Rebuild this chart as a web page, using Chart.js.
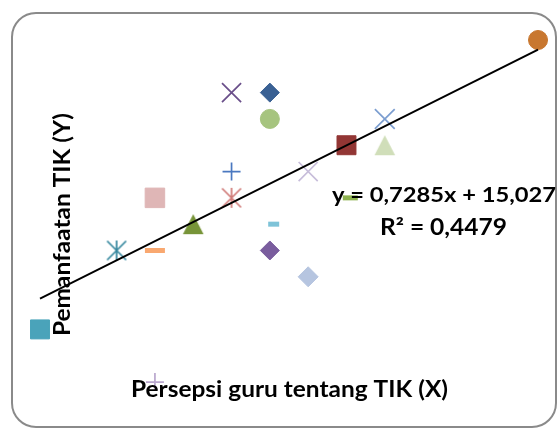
<!DOCTYPE html>
<html>
<head>
<meta charset="utf-8">
<script src="https://cdn.jsdelivr.net/npm/chart.js@4.4.1/dist/chart.umd.min.js"></script>
<style>
  html, body { margin: 0; padding: 0; background: #ffffff; }
  #wrap { width: 558px; height: 429px; }
</style>
</head>
<body>
<div id="wrap"><canvas id="grafico" width="558" height="429"></canvas></div>
<script>
// Dados (X = persepsi, Y = pemanfaatan)
const nilaiX = [40, 42, 43, 43, 44, 45, 45, 45, 46, 46, 46.1, 46, 47, 47, 48, 49, 49, 53, 48.1, 43];
const nilaiY = [43, 46, 46, 48, 47, 52, 49, 48, 52, 51, 47, 46, 49, 45, 50, 51, 50, 54, 48, 41];

// Linha de tendência (do rótulo)
const inclinacao = 0.7285;
const intercepto = 15.027;
const rotuloEquacao = 'y = 0,7285x + 15,027';
const rotuloR2 = 'R² = 0,4479';
const tituloX = 'Persepsi guru tentang TIK (X)';
const tituloY = 'Pemanfaatan TIK (Y)';

// Asterisco estilo Excel (X + linha vertical)
function criarAsterisco(cor) {
  const c = document.createElement('canvas');
  c.width = 22; c.height = 22;
  const g = c.getContext('2d');
  g.strokeStyle = cor;
  g.lineWidth = 1.7;
  g.beginPath();
  g.moveTo(11 - 9.5, 11 - 9.5); g.lineTo(11 + 9.5, 11 + 9.5);
  g.moveTo(11 + 9.5, 11 - 9.5); g.lineTo(11 - 9.5, 11 + 9.5);
  g.moveTo(11, 1); g.lineTo(11, 21);
  g.stroke();
  return c;
}

// Triângulo centrado pela caixa (como no Excel)
function criarTriangulo(cor) {
  const c = document.createElement('canvas');
  c.width = 22; c.height = 22;
  const g = c.getContext('2d');
  g.fillStyle = cor;
  g.beginPath();
  g.moveTo(11, 1);
  g.lineTo(21.3, 21);
  g.lineTo(0.7, 21);
  g.closePath();
  g.fill();
  return c;
}

// Estilo de cada marcador (mesma ordem dos dados)
const marcadores = [
  { estilo: 'rect', cor: '#4AA3BA', r: 13.4 },
  { estilo: 'asterisco', cor: '#35879E' },
  { estilo: 'line', cor: '#F9A870', r: 10, linha: 5 },
  { estilo: 'rect', cor: '#DFB6B6', r: 13.8 },
  { estilo: 'triangulo', cor: '#779438' },
  { estilo: 'crossRot', cor: '#6A4F8A', r: 13.5, linha: 1.7 },
  { estilo: 'cross', cor: '#4A78C0', r: 9, linha: 1.7 },
  { estilo: 'asterisco', cor: '#D07B78' },
  { estilo: 'rectRot', cor: '#3A6194', r: 9.5 },
  { estilo: 'circle', cor: '#A6C47F', r: 9.5 },
  { estilo: 'line', cor: '#7EC3D8', r: 5.5, linha: 5 },
  { estilo: 'rectRot', cor: '#7A5D9E', r: 9.5 },
  { estilo: 'crossRot', cor: '#C7BDDA', r: 13.5, linha: 1.7 },
  { estilo: 'rectRot', cor: '#B6C5E0', r: 10 },
  { estilo: 'rect', cor: '#923634', r: 13.4 },
  { estilo: 'crossRot', cor: '#7C9ED0', r: 14, linha: 1.7 },
  { estilo: 'triangulo', cor: '#D0DEB9' },
  { estilo: 'circle', cor: '#C8772F', r: 9.5 },
  { estilo: 'line', cor: '#8DB24F', r: 7.5, linha: 5 },
  { estilo: 'cross', cor: '#B9A7CE', r: 9, linha: 1.7 }
];

const datasets = [];

// linha de tendência por cima dos pontos
const xMin = Math.min(...nilaiX);
const xMax = Math.max(...nilaiX);
datasets.push({
  type: 'line',
  label: 'tendencia',
  data: [
    { x: xMin, y: inclinacao * xMin + intercepto },
    { x: xMax, y: inclinacao * xMax + intercepto }
  ],
  borderColor: '#000000',
  borderWidth: 2,
  pointRadius: 0,
  fill: false,
  order: 0
});

for (let i = 0; i < nilaiX.length; i++) {
  const m = marcadores[i];
  const ehLinha = ['line', 'cross', 'crossRot'].includes(m.estilo);
  let estilo = m.estilo;
  if (m.estilo === 'asterisco') estilo = criarAsterisco(m.cor);
  if (m.estilo === 'triangulo') estilo = criarTriangulo(m.cor);
  datasets.push({
    label: 'Série ' + (i + 1),
    data: [{ x: nilaiX[i], y: nilaiY[i] }],
    pointStyle: estilo,
    pointRadius: m.r || 10,
    pointHoverRadius: m.r || 10,
    backgroundColor: m.cor,
    borderColor: m.cor,
    pointBorderWidth: ehLinha ? m.linha : 1,
    order: 1
  });
}

// Desenha texto com largura ajustada
function textoAjustado(ctx, texto, x, y, largura, tamanho, rotacao) {
  ctx.save();
  ctx.font = 'bold ' + tamanho + 'px Lato, "Open Sans", sans-serif';
  const medida = ctx.measureText(texto).width;
  ctx.translate(x, y);
  if (rotacao) ctx.rotate(rotacao);
  ctx.scale(largura / medida, 1);
  ctx.fillStyle = '#000000';
  ctx.textAlign = 'center';
  ctx.textBaseline = 'alphabetic';
  ctx.fillText(texto, 0, 0);
  ctx.restore();
}

const moldura = {
  id: 'moldura',
  beforeDraw(chart) {
    const ctx = chart.ctx;
    ctx.save();
    ctx.fillStyle = '#ffffff';
    ctx.fillRect(0, 0, chart.width, chart.height);
    ctx.strokeStyle = '#8a8a8a';
    ctx.lineWidth = 2;
    ctx.beginPath();
    ctx.roundRect(12, 13, 544, 414, 24);
    ctx.stroke();
    ctx.restore();
  }
};

const textos = {
  id: 'textos',
  afterDatasetsDraw(chart) {
    const ctx = chart.ctx;
    textoAjustado(ctx, tituloX, 289.5, 397, 317, 22);
    textoAjustado(ctx, tituloY, 70, 224.5, 223, 22, -Math.PI / 2);
    textoAjustado(ctx, rotuloEquacao, 444, 202, 224, 21);
    textoAjustado(ctx, rotuloR2, 443.5, 235, 127, 22);
  }
};

new Chart(document.getElementById('grafico'), {
  type: 'scatter',
  data: { datasets: datasets },
  options: {
    responsive: false,
    animation: false,
    devicePixelRatio: 1,
    layout: { padding: 0, autoPadding: false },
    clip: false,
    scales: {
      x: { type: 'linear', display: false, min: 38.9559, max: 53.5213 },
      y: { type: 'linear', display: false, min: 39.2147, max: 55.5203 }
    },
    plugins: {
      legend: { display: false },
      tooltip: { enabled: false }
    }
  },
  plugins: [moldura, textos]
});
</script>
</body>
</html>
